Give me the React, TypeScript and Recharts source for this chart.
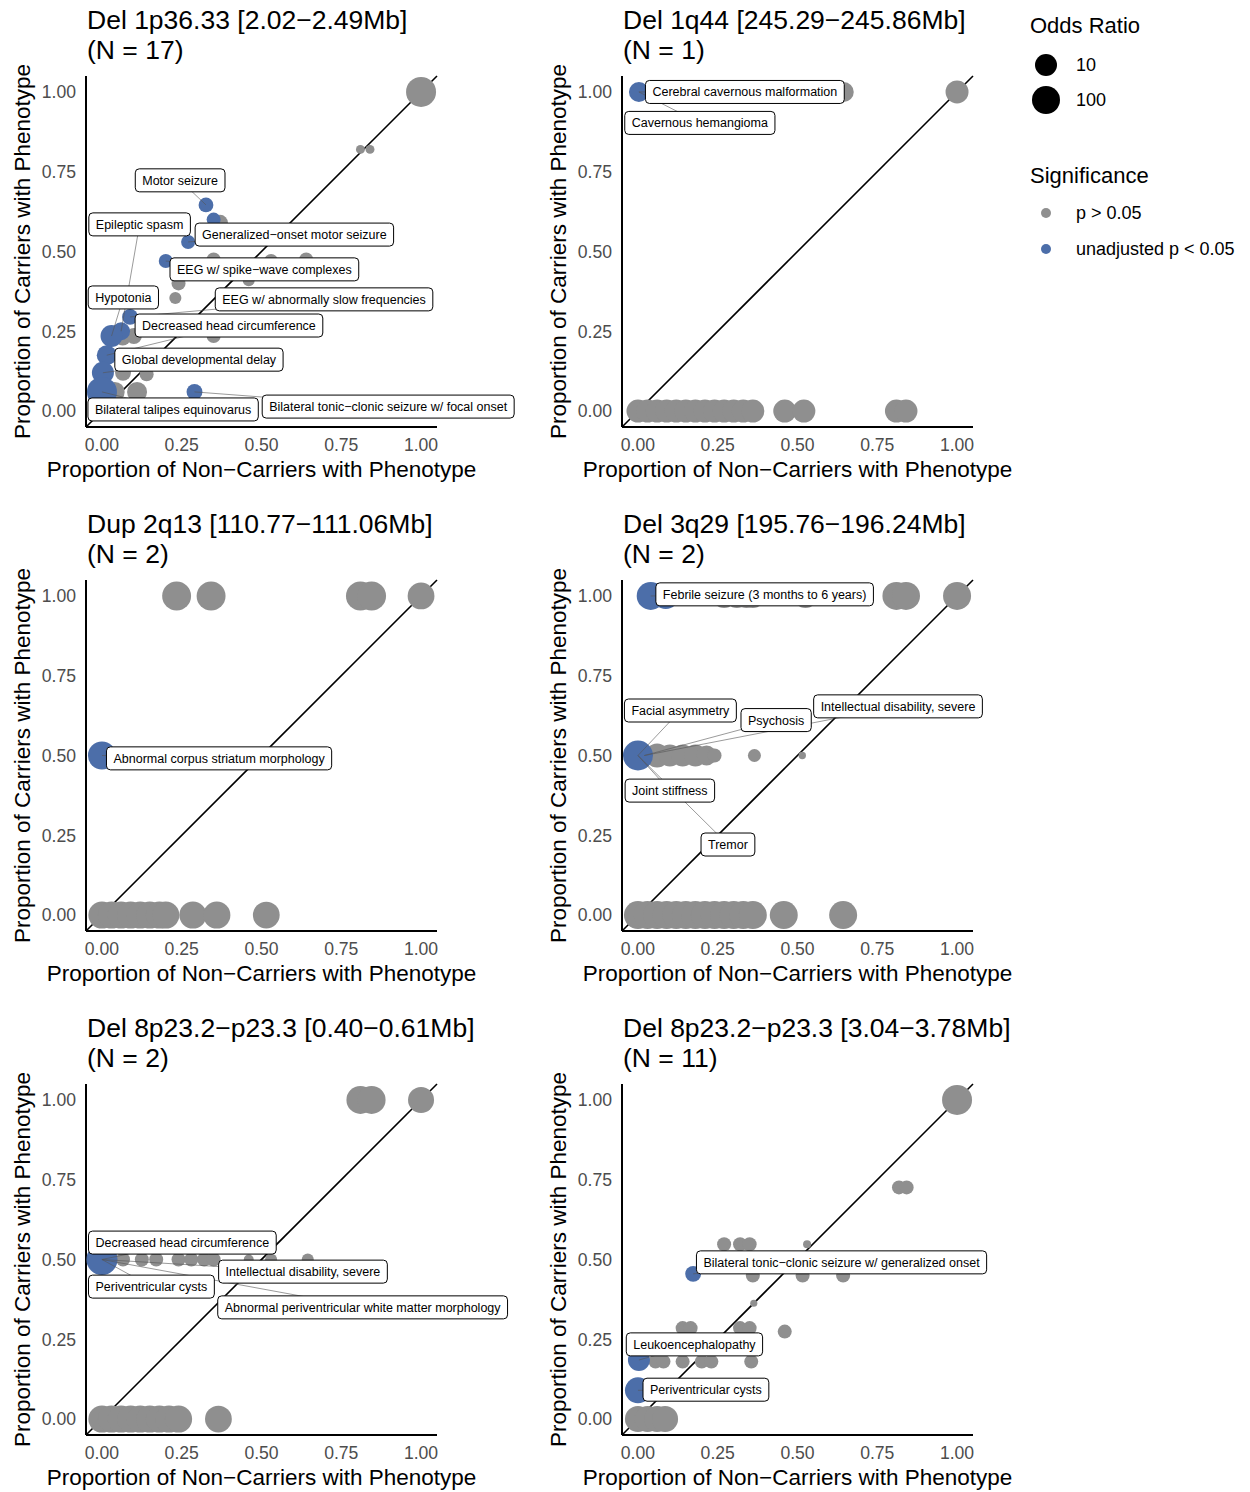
import React from 'react';
import { ScatterChart, Scatter, XAxis, YAxis } from 'recharts';

// [proportion of non-carriers, proportion of carriers, odds ratio]
type Pt = [number, number, number];
// [label, point x, point y, label x, label y]
type Lab = [string, number, number, number, number];

const TICKS = [0, 0.25, 0.5, 0.75, 1];
const GRAY = '#8f8f8f';
const BLUE = '#4c6ea9';
const FONT = '"Liberation Sans", Arial, sans-serif';

const p1Gray: Pt[] = [
  [1.0, 1.0, 244], [0.81, 0.82, 0.45], [0.84, 0.82, 0.45], [0.37, 0.59, 1.7],
  [0.35, 0.475, 1.1], [0.53, 0.47, 1.1], [0.64, 0.475, 1.1], [0.24, 0.4, 1.1],
  [0.46, 0.41, 0.74], [0.23, 0.354, 0.74], [0.065, 0.23, 1.7], [0.1, 0.235, 1.7],
  [0.35, 0.235, 1.1], [0.066, 0.12, 1.7], [0.14, 0.115, 1.1], [0.04, 0.06, 5.2],
  [0.11, 0.06, 5.2], [0.035, 0, 5.2], [0.08, 0, 5.2], [0.11, 0, 5.2],
];
const p1Blue: Pt[] = [
  [0.326, 0.646, 1.3], [0.35, 0.6, 1.1], [0.27, 0.53, 1.1], [0.2, 0.47, 1.1],
  [0.088, 0.295, 1.7], [0.06, 0.25, 2.9], [0.03, 0.235, 10], [0.015, 0.175, 5.2],
  [0.003, 0.12, 10], [0.0, 0.06, 244], [0.29, 0.06, 1.7],
];
const p1Labels: Lab[] = [
  ['Motor seizure', 0.326, 0.646, 0.245, 0.723],
  ['Epileptic spasm', 0.06, 0.25, 0.118, 0.585],
  ['Generalized−onset motor seizure', 0.27, 0.53, 0.603, 0.553],
  ['EEG w/ spike−wave complexes', 0.2, 0.47, 0.509, 0.444],
  ['Hypotonia', 0.03, 0.235, 0.067, 0.356],
  ['EEG w/ abnormally slow frequencies', 0.088, 0.295, 0.696, 0.35],
  ['Decreased head circumference', 0.015, 0.175, 0.398, 0.268],
  ['Global developmental delay', 0.003, 0.12, 0.304, 0.161],
  ['Bilateral talipes equinovarus', 0.0, 0.06, 0.223, 0.005],
  ['Bilateral tonic−clonic seizure w/ focal onset', 0.29, 0.06, 0.897, 0.014],
];

const p2Gray: Pt[] = [
  [0.645, 1, 5.2], [1, 1, 14],
  [0, 0, 14], [0.03, 0, 14], [0.06, 0, 14], [0.09, 0, 14], [0.12, 0, 14], [0.15, 0, 14],
  [0.18, 0, 14], [0.21, 0, 14], [0.24, 0, 14], [0.27, 0, 14], [0.3, 0, 14], [0.33, 0, 14],
  [0.36, 0, 14], [0.46, 0, 14], [0.52, 0, 14], [0.81, 0, 14], [0.84, 0, 14],
];
const p2Blue: Pt[] = [[0.003, 1, 5.2]];
const p2Labels: Lab[] = [
  ['Cerebral cavernous malformation', 0.003, 1, 0.335, 1.0],
  ['Cavernous hemangioma', 0.003, 1, 0.194, 0.903],
];

const p3Gray: Pt[] = [
  [0.234, 1, 150], [0.342, 1, 150], [0.81, 1, 150], [0.845, 1, 150], [1, 1, 60],
  [0, 0, 70], [0.03, 0, 70], [0.06, 0, 70], [0.09, 0, 70], [0.12, 0, 70], [0.15, 0, 70],
  [0.18, 0, 70], [0.2, 0, 70], [0.285, 0, 70], [0.36, 0, 70], [0.515, 0, 60],
];
const p3Blue: Pt[] = [[0, 0.5, 100]];
const p3Labels: Lab[] = [['Abnormal corpus striatum morphology', 0, 0.5, 0.367, 0.491]];

const p4Gray: Pt[] = [
  [0.27, 1, 20], [0.31, 1, 20], [0.34, 1, 20], [0.36, 1, 20], [0.525, 1, 20],
  [0.81, 1, 100], [0.84, 1, 100], [1, 1, 100],
  [0.06, 0.5, 20], [0.1, 0.5, 10], [0.14, 0.5, 10], [0.18, 0.5, 10], [0.215, 0.5, 5.2],
  [0.24, 0.5, 1.1], [0.365, 0.5, 0.9], [0.515, 0.5, 0.37],
  [0, 0, 100], [0.03, 0, 100], [0.06, 0, 100], [0.09, 0, 100], [0.12, 0, 100], [0.15, 0, 100],
  [0.18, 0, 100], [0.21, 0, 100], [0.24, 0, 100], [0.27, 0, 100], [0.3, 0, 100], [0.33, 0, 100],
  [0.36, 0, 100], [0.457, 0, 100], [0.643, 0, 100],
];
const p4Blue: Pt[] = [[0.04, 1, 100], [0.087, 1, 44], [0, 0.5, 244]];
const p4Labels: Lab[] = [
  ['Febrile seizure (3 months to 6 years)', 0.04, 1, 0.397, 1.005],
  ['Facial asymmetry', 0, 0.5, 0.133, 0.641],
  ['Psychosis', 0.02, 0.5, 0.433, 0.611],
  ['Intellectual disability, severe', 0.02, 0.5, 0.815, 0.654],
  ['Joint stiffness', 0, 0.5, 0.1, 0.39],
  ['Tremor', 0, 0.5, 0.282, 0.221],
];

const p5Gray: Pt[] = [
  [0.81, 1, 100], [0.845, 1, 100], [1, 1, 44],
  [0.066, 0.5, 1.1], [0.125, 0.5, 1.1], [0.17, 0.5, 1.1], [0.24, 0.5, 1.1], [0.28, 0.5, 1.1],
  [0.32, 0.5, 1.1], [0.35, 0.5, 1.1], [0.46, 0.5, 0.52], [0.53, 0.5, 0.74], [0.645, 0.5, 0.74],
  [0, 0, 70], [0.03, 0, 70], [0.06, 0, 70], [0.09, 0, 70], [0.12, 0, 70], [0.15, 0, 70],
  [0.18, 0, 70], [0.21, 0, 70], [0.24, 0, 70], [0.365, 0, 60],
];
const p5Blue: Pt[] = [[0, 0.5, 400]];
const p5Labels: Lab[] = [
  ['Decreased head circumference', 0, 0.5, 0.252, 0.553],
  ['Intellectual disability, severe', 0, 0.5, 0.63, 0.462],
  ['Periventricular cysts', 0, 0.5, 0.155, 0.415],
  ['Abnormal periventricular white matter morphology', 0, 0.5, 0.817, 0.35],
];

const p6Gray: Pt[] = [
  [1, 1, 244], [0.818, 0.726, 1.1], [0.842, 0.726, 1.1],
  [0.27, 0.548, 1.1], [0.32, 0.548, 1.1], [0.35, 0.548, 1.1], [0.53, 0.548, 0.4],
  [0.36, 0.45, 1.1], [0.516, 0.45, 1.1], [0.643, 0.45, 1.1], [0.363, 0.363, 0.36],
  [0.46, 0.274, 1.1], [0.14, 0.285, 1.1], [0.165, 0.285, 1.1], [0.32, 0.285, 1.1], [0.35, 0.285, 1.1],
  [0.055, 0.18, 1.1], [0.08, 0.18, 1.1], [0.14, 0.18, 1.1], [0.2, 0.18, 1.1], [0.23, 0.18, 1.1],
  [0.355, 0.18, 1.1],
  [0, 0, 44], [0.03, 0, 44], [0.06, 0, 44], [0.085, 0, 44],
];
const p6Blue: Pt[] = [[0.173, 0.455, 1.7], [0.003, 0.185, 10], [0, 0.09, 44]];
const p6Labels: Lab[] = [
  ['Bilateral tonic−clonic seizure w/ generalized onset', 0.173, 0.455, 0.638, 0.491],
  ['Leukoencephalopathy', 0.003, 0.185, 0.177, 0.234],
  ['Periventricular cysts', 0, 0.09, 0.213, 0.092],
];

const panels = [
  { title: 'Del 1p36.33 [2.02−2.49Mb]', n: 17, gray: p1Gray, blue: p1Blue, labels: p1Labels },
  { title: 'Del 1q44 [245.29−245.86Mb]', n: 1, gray: p2Gray, blue: p2Blue, labels: p2Labels },
  { title: 'Dup 2q13 [110.77−111.06Mb]', n: 2, gray: p3Gray, blue: p3Blue, labels: p3Labels },
  { title: 'Del 3q29 [195.76−196.24Mb]', n: 2, gray: p4Gray, blue: p4Blue, labels: p4Labels },
  { title: 'Del 8p23.2−p23.3 [0.40−0.61Mb]', n: 2, gray: p5Gray, blue: p5Blue, labels: p5Labels },
  { title: 'Del 8p23.2−p23.3 [3.04−3.78Mb]', n: 11, gray: p6Gray, blue: p6Blue, labels: p6Labels },
];

// size scale: area linear in log10(odds ratio)
const radius = (or: number) => Math.sqrt(Math.max(4, 46 + 75 * Math.log10(or)));

let ctx: CanvasRenderingContext2D | null = null;
const LABEL_SIZE = 12.5;
function textWidth(t: string) {
  if (!ctx) ctx = document.createElement('canvas').getContext('2d');
  if (!ctx) return t.length * 6.5;
  ctx.font = `${LABEL_SIZE}px ${FONT}`;
  return ctx.measureText(t).width;
}

const dot = (fill: string) => (props: any) => (
  <circle cx={props.cx} cy={props.cy} r={radius(props.payload.or)} fill={fill} />
);

const none = () => <g />;

function LabelBox(props: any) {
  const { cx, cy, payload } = props;
  const w = textWidth(payload.text) + 14;
  const h = 23;
  return (
    <g>
      <rect x={cx - w / 2} y={cy - h / 2} width={w} height={h} rx={4} fill="#fff" stroke="#000" strokeWidth={1} />
      <text x={cx} y={cy + LABEL_SIZE * 0.36} textAnchor="middle" fontSize={LABEL_SIZE} fontFamily={FONT} fill="#000">
        {payload.text}
      </text>
    </g>
  );
}

const toObj = (p: Pt) => ({ x: p[0], y: p[1], or: p[2] });

function Panel({ spec, left, top }: { spec: (typeof panels)[number]; left: number; top: number }) {
  return (
    <div style={{ position: 'absolute', left, top, width: 536, height: 504 }}>
      <div style={{ position: 'absolute', left: 87, top: 5, fontFamily: FONT, fontSize: 26.5, lineHeight: '30px', whiteSpace: 'nowrap', color: '#000' }}>
        {spec.title}
        <br />
        (N = {spec.n})
      </div>
      <ScatterChart width={536} height={504} margin={{ top: 76, right: 99, bottom: 0, left: 0 }}>
        <XAxis
          type="number"
          dataKey="x"
          domain={[-0.05, 1.05]}
          ticks={TICKS}
          tickFormatter={(v: number) => v.toFixed(2)}
          tickLine={false}
          tickMargin={6}
          axisLine={{ stroke: '#000', strokeWidth: 2 }}
          tick={{ fill: '#4d4d4d', fontSize: 17.6, fontFamily: FONT }}
          height={77}
          label={{ value: 'Proportion of Non−Carriers with Phenotype', position: 'insideBottom', offset: 27, fill: '#000', fontSize: 22.5, fontFamily: FONT }}
        />
        <YAxis
          type="number"
          dataKey="y"
          domain={[-0.05, 1.05]}
          ticks={TICKS}
          tickFormatter={(v: number) => v.toFixed(2)}
          tickLine={false}
          tickMargin={4}
          axisLine={{ stroke: '#000', strokeWidth: 2 }}
          tick={{ fill: '#4d4d4d', fontSize: 17.6, fontFamily: FONT }}
          width={86}
          label={{ value: 'Proportion of Carriers with Phenotype', angle: -90, position: 'insideLeft', offset: 22, fill: '#000', fontSize: 22.5, fontFamily: FONT, style: { textAnchor: 'middle' } }}
        />
        <Scatter
          data={[{ x: -0.05, y: -0.05 }, { x: 1.05, y: 1.05 }]}
          line={{ stroke: '#000', strokeWidth: 1.6 }}
          shape={none}
          isAnimationActive={false}
        />
        <Scatter data={spec.gray.map(toObj)} shape={dot(GRAY)} isAnimationActive={false} />
        <Scatter data={spec.blue.map(toObj)} shape={dot(BLUE)} isAnimationActive={false} />
        {spec.labels.map((l, i) => (
          <Scatter
            key={'seg' + i}
            data={[{ x: l[1], y: l[2] }, { x: l[3], y: l[4] }]}
            line={{ stroke: '#555', strokeWidth: 0.6 }}
            shape={none}
            isAnimationActive={false}
          />
        ))}
        <Scatter
          data={spec.labels.map((l) => ({ x: l[3], y: l[4], text: l[0] }))}
          shape={LabelBox}
          isAnimationActive={false}
        />
      </ScatterChart>
    </div>
  );
}

function Legend() {
  const txt = { fontFamily: FONT, fill: '#000' };
  return (
    <svg style={{ position: 'absolute', left: 1020, top: 0 }} width={230} height={280}>
      <text x={10} y={33} fontSize={22} {...txt}>Odds Ratio</text>
      <circle cx={26} cy={65} r={radius(10)} fill="#000" />
      <text x={56} y={71} fontSize={18} {...txt}>10</text>
      <circle cx={26} cy={100} r={radius(100)} fill="#000" />
      <text x={56} y={106} fontSize={18} {...txt}>100</text>
      <text x={10} y={183} fontSize={22} {...txt}>Significance</text>
      <circle cx={26} cy={213} r={5} fill={GRAY} />
      <text x={56} y={219} fontSize={18} {...txt}>p &gt; 0.05</text>
      <circle cx={26} cy={249} r={5} fill={BLUE} />
      <text x={56} y={255} fontSize={18} {...txt}>unadjusted p &lt; 0.05</text>
    </svg>
  );
}

export default function App() {
  return (
    <div style={{ position: 'absolute', left: 0, top: 0, width: 1250, height: 1492, background: '#fff' }}>
      {panels.map((p, i) => (
        <Panel key={i} spec={p} left={(i % 2) * 536} top={Math.floor(i / 2) * 504} />
      ))}
      <Legend />
    </div>
  );
}
